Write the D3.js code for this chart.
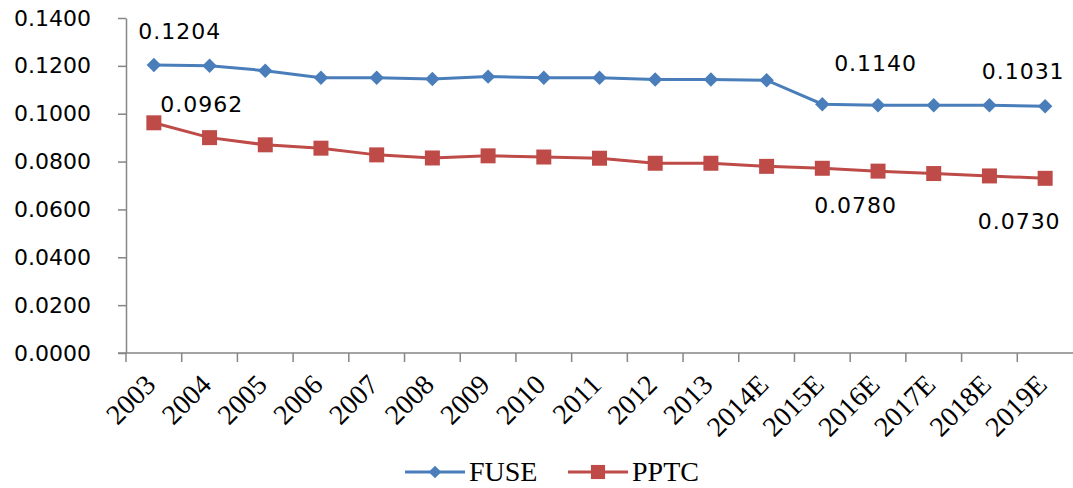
<!DOCTYPE html>
<html>
<head>
<meta charset="utf-8">
<script src="https://cdn.jsdelivr.net/npm/d3@7"></script>
<style>
  body { margin: 0; background: #fff; }
  #graphic svg { display: block; }
  .axis path, .axis line { stroke: #868686; stroke-width: 1.5; }
  .y.axis text { font-family: "DejaVu Sans", sans-serif; font-size: 22px; fill: #000; }
  .x.axis text { font-family: "Liberation Serif", serif; font-size: 28px; fill: #000; }
  .data-label { font-family: "DejaVu Sans", sans-serif; font-size: 22px; letter-spacing: 1px; fill: #000; }
  .legend text { font-family: "Liberation Serif", serif; font-size: 28px; fill: #000; }
</style>
</head>
<body>
<div id="graphic"></div>
<script>
// Data
var categories = ["2003", "2004", "2005", "2006", "2007", "2008", "2009", "2010", "2011",
  "2012", "2013", "2014E", "2015E", "2016E", "2017E", "2018E", "2019E"];
var fuseValues = [0.1204, 0.1200, 0.1180, 0.1150, 0.1150, 0.1145, 0.1155, 0.1150, 0.1150,
  0.1143, 0.1143, 0.1140, 0.1040, 0.1035, 0.1035, 0.1035, 0.1031];
var pptcValues = [0.0962, 0.0900, 0.0870, 0.0856, 0.0828, 0.0815, 0.0824, 0.0819, 0.0814,
  0.0793, 0.0793, 0.0780, 0.0772, 0.0760, 0.0750, 0.0740, 0.0730];
var yTicks = [0, 0.02, 0.04, 0.06, 0.08, 0.10, 0.12, 0.14];
// data labels: which series / category is labelled
var dataLabels = [
  { series: "FUSE", index: 0 },
  { series: "PPTC", index: 0 },
  { series: "FUSE", index: 11 },
  { series: "PPTC", index: 11 },
  { series: "FUSE", index: 16 },
  { series: "PPTC", index: 16 }
];
// label offsets from their point (pixels)
var labelOffsets = [[26, -33], [48, -18], [109, -17], [89, 39], [-22, -35], [-26, 43]];

var series = [
  { name: "FUSE", values: fuseValues, colour: "#4a7ebb", symbol: d3.symbolSquare, rotate: 45, size: 105 },
  { name: "PPTC", values: pptcValues, colour: "#be4b48", symbol: d3.symbolSquare, rotate: 0, size: 225 }
];

var width = 1073, height = 488;
var margin = { top: 18, right: 0, bottom: 135, left: 126 };

var svg = d3.select("#graphic").append("svg")
  .attr("width", width)
  .attr("height", height);

// Scales
var x = d3.scaleBand().domain(categories).range([margin.left, width - margin.right]).padding(0);
var y = d3.scaleLinear().domain([0, 0.14]).range([height - margin.bottom, margin.top]);

// Axes
var yAxis = d3.axisLeft(y).tickValues(yTicks).tickSize(8).tickSizeOuter(0).tickPadding(27)
  .tickFormat(d3.format(".4f"));
svg.append("g").attr("class", "y axis")
  .attr("transform", "translate(" + margin.left + ",0)")
  .call(yAxis);

var xAxis = d3.axisBottom(x).tickSize(9).tickSizeOuter(0).tickPadding(0);
var xg = svg.append("g").attr("class", "x axis")
  .attr("transform", "translate(0," + y(0) + ")")
  .call(xAxis);
// move ticks to the category boundaries
xg.selectAll(".tick line")
  .attr("x1", -x.bandwidth() / 2)
  .attr("x2", -x.bandwidth() / 2);
xg.selectAll(".tick text")
  .attr("text-anchor", "end")
  .attr("dy", null)
  .attr("transform", "translate(-3,27) rotate(-45)");
xg.select(".domain").attr("d", "M" + (margin.left - 8) + ",0H" + width);

// Lines and markers
var line = d3.line()
  .x(function (d, i) { return x(categories[i]) + x.bandwidth() / 2; })
  .y(function (d) { return y(d); });

series.forEach(function (s) {
  svg.append("path")
    .datum(s.values)
    .attr("fill", "none")
    .attr("stroke", s.colour)
    .attr("stroke-width", 3)
    .attr("d", line);

  svg.selectAll(".pt-" + s.name)
    .data(s.values)
    .enter()
    .append("path")
    .attr("class", "pt-" + s.name)
    .attr("d", d3.symbol().type(s.symbol).size(s.size))
    .attr("fill", s.colour)
    .attr("transform", function (d, i) {
      return "translate(" + (x(categories[i]) + x.bandwidth() / 2) + "," + y(d) + ") rotate(" + s.rotate + ")";
    });
});

// Data labels
dataLabels.forEach(function (l, k) {
  var s = series.find(function (d) { return d.name === l.series; });
  var v = s.values[l.index];
  svg.append("text")
    .attr("class", "data-label")
    .attr("x", x(categories[l.index]) + x.bandwidth() / 2 + labelOffsets[k][0])
    .attr("y", y(v) + labelOffsets[k][1])
    .attr("text-anchor", "middle")
    .attr("dominant-baseline", "central")
    .text(d3.format(".4f")(v));
});

// Legend
var legend = svg.append("g").attr("class", "legend");
var legendItems = [
  { s: series[0], x: 405 },
  { s: series[1], x: 568 }
];
legendItems.forEach(function (item) {
  var g = legend.append("g").attr("transform", "translate(" + item.x + ",472)");
  g.append("line").attr("x1", 0).attr("x2", 60).attr("y1", 0).attr("y2", 0)
    .attr("stroke", item.s.colour).attr("stroke-width", 3);
  g.append("path")
    .attr("d", d3.symbol().type(item.s.symbol).size(item.s.name === "FUSE" ? 80 : 200))
    .attr("fill", item.s.colour)
    .attr("transform", "translate(30,0) rotate(" + item.s.rotate + ")");
  g.append("text").attr("x", 64).attr("y", 0).attr("dy", "0.33em").text(item.s.name);
});
</script>
</body>
</html>
